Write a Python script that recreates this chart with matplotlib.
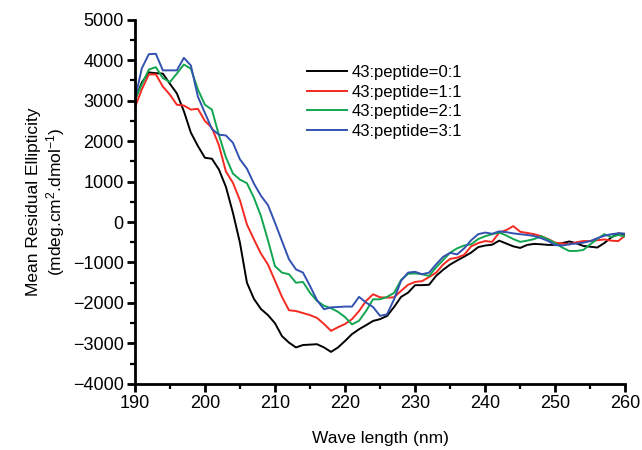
"""CD spectra of 43:peptide titration, recreated with matplotlib."""

import matplotlib

matplotlib.use("Agg")
import matplotlib.pyplot as plt
import numpy as np
from matplotlib.ticker import MultipleLocator

plt.rcParams["font.family"] = ["Liberation Sans", "DejaVu Sans"]
plt.rcParams["mathtext.fontset"] = "custom"
plt.rcParams["mathtext.rm"] = "Liberation Sans"
plt.rcParams["mathtext.it"] = "Liberation Sans:italic"

WAVELENGTH = np.arange(190, 261)

RATIO_0_1 = [
    3000, 3450, 3700, 3680, 3670, 3420, 3180, 2740, 2210, 1880,
    1590, 1565, 1300, 870, 230, -510, -1500, -1900, -2150, -2300,
    -2500, -2820, -2980, -3100, -3040, -3030, -3020, -3100, -3210, -3100,
    -2940, -2770, -2650, -2550, -2445, -2400, -2320, -2100, -1850, -1745,
    -1560, -1560, -1550, -1330, -1180, -1050, -950, -855, -755, -620,
    -580, -560, -460, -530, -600, -640, -565, -540, -550, -565,
    -565, -520, -480, -525, -590, -610, -630, -520, -380, -280,
    -300,
]

RATIO_1_1 = [
    2825, 3280, 3650, 3650, 3350, 3150, 2900, 2880, 2780, 2800,
    2500, 2330, 1900, 1250, 970, 540, -60, -430, -780, -1050,
    -1450, -1850, -2180, -2200, -2250, -2300, -2370, -2520, -2690, -2600,
    -2520, -2400, -2200, -1950, -1785, -1860, -1870, -1860, -1700, -1550,
    -1480, -1460, -1360, -1250, -1050, -910, -880, -810, -600, -520,
    -470, -490, -260, -200, -100, -240, -270, -300, -350, -420,
    -510, -530, -550, -500, -470, -470, -450, -430, -460, -470,
    -330,
]

RATIO_2_1 = [
    3030, 3400, 3770, 3830, 3560, 3460, 3670, 3895, 3790, 3280,
    2900, 2780, 2150, 1600, 1200, 1050, 960, 600, 150, -450,
    -1090, -1250, -1290, -1500, -1480, -1750, -1950, -2070, -2130, -2220,
    -2350, -2530, -2440, -2200, -1910, -1910, -1850, -1750, -1430, -1280,
    -1270, -1290, -1330, -1120, -940, -755, -650, -580, -550, -420,
    -350, -300, -260, -330, -420, -490, -460, -420, -350, -430,
    -520, -630, -715, -715, -690, -550, -420, -300, -370, -320,
    -360,
]

RATIO_3_1 = [
    3030, 3800, 4150, 4160, 3750, 3750, 3750, 4060, 3870, 3100,
    2700, 2300, 2160, 2140, 1960, 1550, 1320, 950, 650, 420,
    -15, -470, -920, -1170, -1250, -1580, -1930, -2155, -2110, -2100,
    -2090, -2090, -1850, -1990, -2100, -2320, -2280, -1910, -1450, -1250,
    -1230, -1290, -1250, -1045, -860, -760, -800, -650, -450, -300,
    -260, -290, -230, -250, -280, -300, -320, -345, -400, -470,
    -570, -580, -550, -530, -510, -470, -400, -340, -300, -280,
    -285,
]

LABELS = ["43:peptide=0:1", "43:peptide=1:1", "43:peptide=2:1", "43:peptide=3:1"]
COLORS = ["#000000", "#f42a22", "#12a650", "#3352b0"]


def plot() -> None:
    fig = plt.figure(figsize=(6.42, 4.5), dpi=100)
    ax = fig.add_axes([0.210, 0.147, 0.764, 0.809])

    for series, label, color in zip(
        [RATIO_0_1, RATIO_1_1, RATIO_2_1, RATIO_3_1], LABELS, COLORS
    ):
        ax.plot(WAVELENGTH, series, color=color, linewidth=1.4, label=label)

    ax.set_xlim(190, 260)
    ax.set_ylim(-4000, 5000)
    ax.xaxis.set_major_locator(MultipleLocator(10))
    ax.xaxis.set_minor_locator(MultipleLocator(5))
    ax.yaxis.set_major_locator(MultipleLocator(1000))
    ax.yaxis.set_minor_locator(MultipleLocator(500))

    ax.spines["top"].set_visible(False)
    ax.spines["right"].set_visible(False)
    ax.spines["left"].set_linewidth(2.0)
    ax.spines["bottom"].set_linewidth(2.0)
    ax.tick_params(which="major", direction="out", length=6, width=2,
                   labelsize=13, pad=2)
    ax.tick_params(which="minor", direction="out", length=3.5, width=1.6)

    ax.set_xlabel("Wave length (nm)", fontsize=12.5, labelpad=14)
    ax.set_ylabel(
        "Mean Residual Ellipticity\n(mdeg.cm$^{2}$.dmol$^{-1}$)",
        fontsize=12.5,
        labelpad=4,
    )

    ax.legend(
        loc="upper left",
        bbox_to_anchor=(0.478, 0.855),
        bbox_transform=fig.transFigure,
        frameon=False,
        fontsize=12,
        handlelength=2.4,
        handletextpad=0.3,
        labelspacing=0.27,
        borderpad=0,
        borderaxespad=0,
    )

    fig.savefig("out.png", dpi=100)


if __name__ == "__main__":
    plot()
